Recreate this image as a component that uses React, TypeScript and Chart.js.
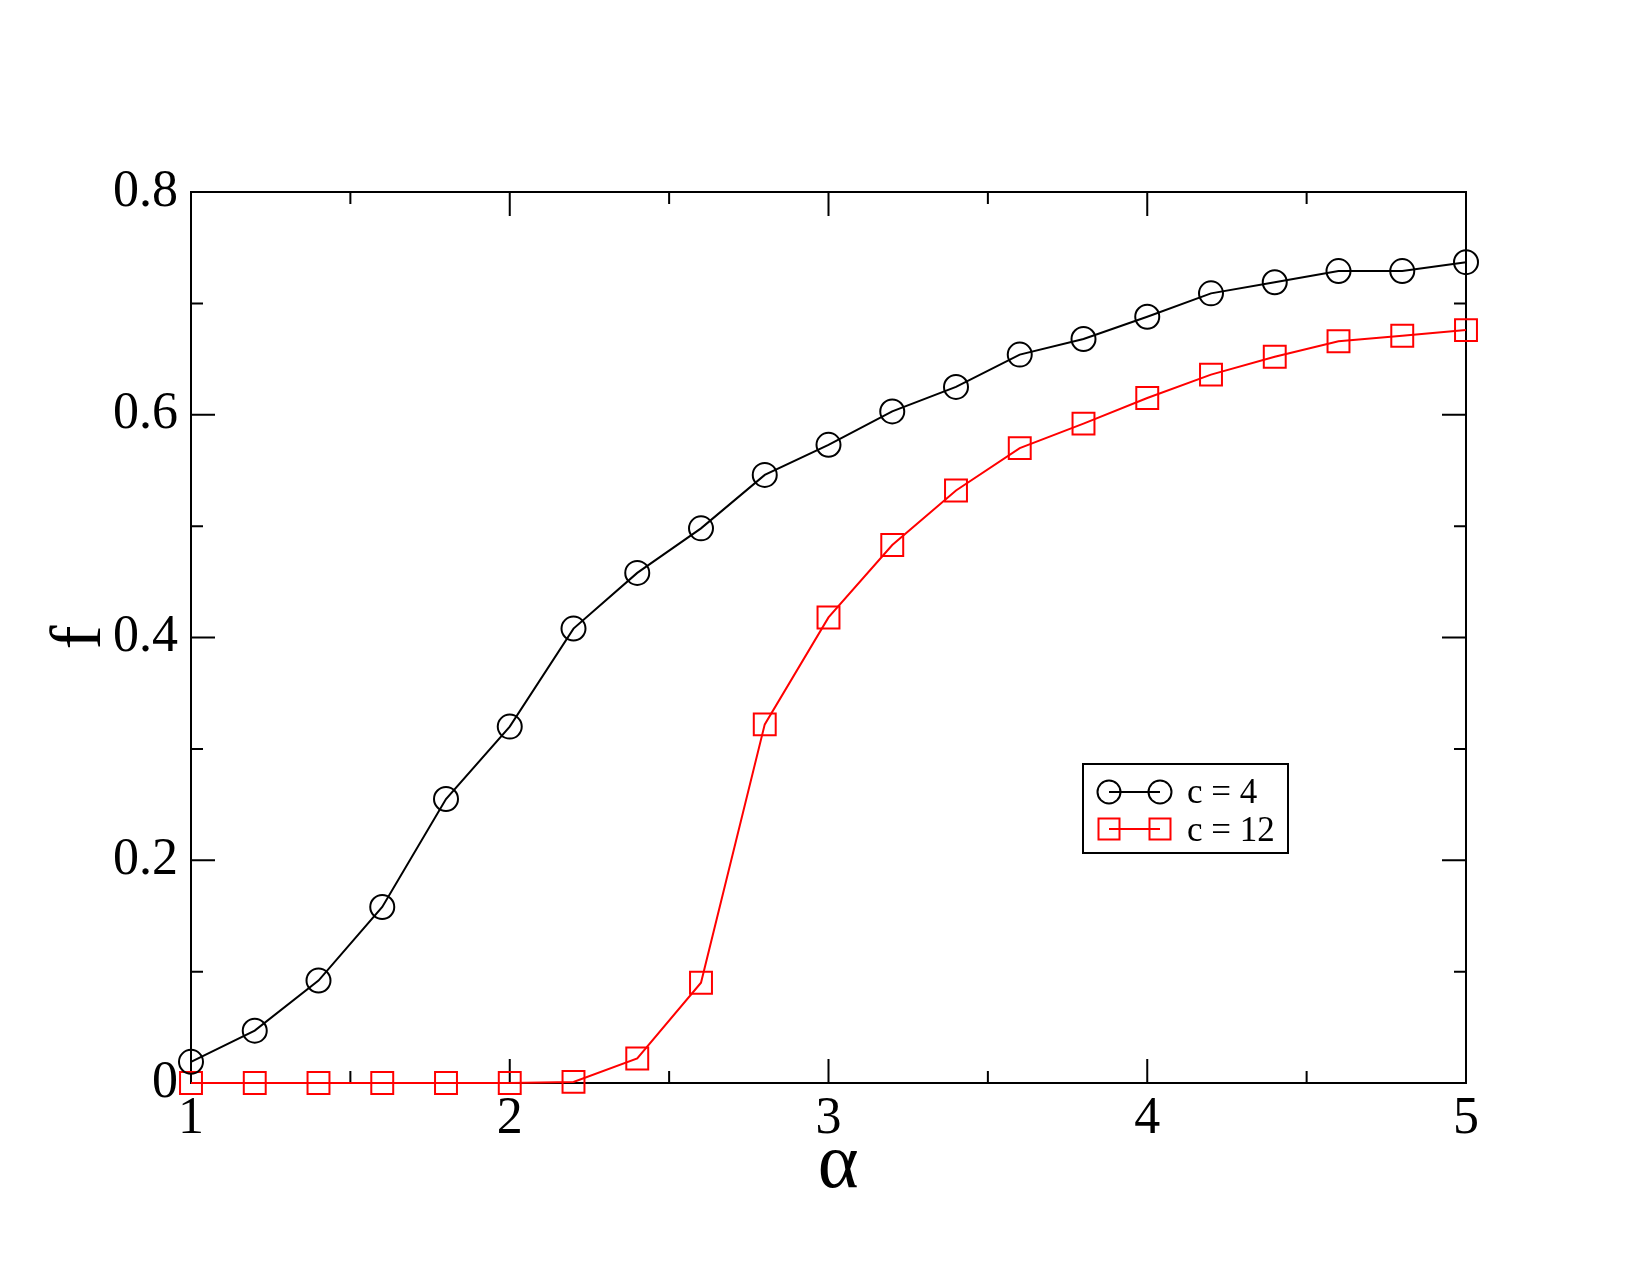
import React, { useEffect, useRef } from "react";
import { Chart, registerables } from "chart.js";

Chart.register(...registerables);

const alpha = [1, 1.2, 1.4, 1.6, 1.8, 2, 2.2, 2.4, 2.6, 2.8, 3, 3.2, 3.4, 3.6, 3.8, 4, 4.2, 4.4, 4.6, 4.8, 5];
const fC4 = [0.019, 0.047, 0.092, 0.158, 0.255, 0.32, 0.408, 0.458, 0.498, 0.546, 0.573, 0.603, 0.625, 0.654, 0.668, 0.688, 0.709, 0.719, 0.729, 0.729, 0.737];
const fC12 = [0, 0, 0, 0, 0, 0, 0.001, 0.022, 0.09, 0.322, 0.418, 0.483, 0.532, 0.57, 0.592, 0.615, 0.636, 0.652, 0.666, 0.671, 0.676];
const seriesLabels = ["c = 4", "c = 12"];
const xTitle = " α";
const yTitle = "f";

const FONT = "'Liberation Serif', 'Times New Roman', serif";

const isMajorX = (v: number) => Math.abs(v - Math.round(v)) < 1e-6;
const isMajorY = (v: number) => Math.round(v * 10) % 2 === 0;

const framePlugin = {
  id: "frameTicks",
  beforeDatasetsDraw(chart: any) {
    const { ctx, chartArea, scales } = chart;
    const { left, right, top, bottom } = chartArea;
    const x = scales.x;
    const y = scales.y;
    ctx.save();
    ctx.strokeStyle = "#000";
    ctx.lineWidth = 2;
    ctx.strokeRect(left, top, right - left, bottom - top);
    ctx.beginPath();
    x.ticks.forEach((t: any) => {
      const px = x.getPixelForValue(t.value);
      const len = isMajorX(t.value) ? 24 : 12;
      ctx.moveTo(px, bottom);
      ctx.lineTo(px, bottom - len);
      ctx.moveTo(px, top);
      ctx.lineTo(px, top + len);
    });
    y.ticks.forEach((t: any) => {
      const py = y.getPixelForValue(t.value);
      const len = isMajorY(t.value) ? 24 : 12;
      ctx.moveTo(left, py);
      ctx.lineTo(left + len, py);
      ctx.moveTo(right, py);
      ctx.lineTo(right - len, py);
    });
    ctx.stroke();
    ctx.restore();
  },
};

const legendPlugin = {
  id: "customLegend",
  afterDraw(chart: any) {
    const { ctx } = chart;
    const bx = 1083, by = 764, bw = 205, bh = 89;
    ctx.save();
    ctx.strokeStyle = "#000";
    ctx.lineWidth = 2;
    ctx.strokeRect(bx, by, bw, bh);
    const rows = [
      { y: 792, base: 803, color: "#000000", shape: "circle", label: seriesLabels[0] },
      { y: 829, base: 841, color: "#ff0000", shape: "rect", label: seriesLabels[1] },
    ];
    rows.forEach((r) => {
      ctx.strokeStyle = r.color;
      ctx.lineWidth = 2;
      ctx.beginPath();
      ctx.moveTo(1109, r.y);
      ctx.lineTo(1160, r.y);
      ctx.stroke();
      [1109, 1160].forEach((cx) => {
        ctx.beginPath();
        if (r.shape === "circle") {
          ctx.arc(cx, r.y, 11.5, 0, Math.PI * 2);
        } else {
          ctx.rect(cx - 10.5, r.y - 10.5, 21, 21);
        }
        ctx.stroke();
      });
      ctx.fillStyle = "#000";
      ctx.font = `35px ${FONT}`;
      ctx.textAlign = "left";
      ctx.textBaseline = "alphabetic";
      ctx.fillText(r.label, 1187, r.base);
    });
    ctx.restore();
  },
};

export default function App() {
  const ref = useRef<HTMLCanvasElement>(null);
  useEffect(() => {
    if (!ref.current) return;
    const chart = new Chart(ref.current, {
      type: "line",
      data: {
        datasets: [
          {
            label: seriesLabels[0],
            data: alpha.map((a, i) => ({ x: a, y: fC4[i] })),
            borderColor: "#000000",
            backgroundColor: "rgba(0,0,0,0)",
            borderWidth: 2,
            pointStyle: "circle",
            pointRadius: 12,
            pointBorderWidth: 2,
            pointBorderColor: "#000000",
            pointBackgroundColor: "rgba(0,0,0,0)",
            tension: 0,
            clip: false as any,
          },
          {
            label: seriesLabels[1],
            data: alpha.map((a, i) => ({ x: a, y: fC12[i] })),
            borderColor: "#ff0000",
            backgroundColor: "rgba(0,0,0,0)",
            borderWidth: 2,
            pointStyle: "rect",
            pointRadius: 15.5,
            pointBorderWidth: 2,
            pointBorderColor: "#ff0000",
            pointBackgroundColor: "rgba(0,0,0,0)",
            tension: 0,
            clip: false as any,
          },
        ],
      },
      options: {
        animation: false,
        responsive: false,
        events: [],
        layout: { padding: { left: 0, top: 192, right: 184, bottom: 0 } },
        plugins: { legend: { display: false }, tooltip: { enabled: false } },
        scales: {
          x: {
            type: "linear",
            min: 1,
            max: 5,
            grid: { display: false, drawTicks: false },
            border: { display: false },
            ticks: {
              stepSize: 0.5,
              autoSkip: false,
              maxRotation: 0,
              padding: 5,
              color: "#000",
              font: { family: FONT, size: 52 },
              callback: (v: any) => (isMajorX(Number(v)) ? String(Math.round(Number(v))) : ""),
            },
            title: {
              display: true,
              text: xTitle,
              color: "#000",
              font: { family: FONT, size: 78 },
              padding: { top: 0, bottom: 62 },
            },
            afterFit: (s: any) => {
              s.height = 192;
            },
          },
          y: {
            type: "linear",
            min: 0,
            max: 0.8,
            grid: { display: false, drawTicks: false },
            border: { display: false },
            ticks: {
              stepSize: 0.1,
              autoSkip: false,
              padding: 13,
              color: "#000",
              font: { family: FONT, size: 52 },
              callback: (v: any) => {
                const k = Math.round(Number(v) * 10);
                if (k % 2 !== 0) return "";
                return k === 0 ? "0" : (k / 10).toFixed(1);
              },
            },
            title: {
              display: true,
              text: yTitle,
              color: "#000",
              font: { family: FONT, size: 72 },
              padding: { top: 38, bottom: 0 },
            },
            afterFit: (s: any) => {
              s.width = 191;
            },
          },
        },
      },
      plugins: [framePlugin, legendPlugin],
    });
    return () => chart.destroy();
  }, []);
  return (
    <div style={{ position: "absolute", left: 0, top: 0, width: 1650, height: 1275, background: "#fff" }}>
      <canvas ref={ref} width={1650} height={1275} style={{ display: "block" }} />
    </div>
  );
}
